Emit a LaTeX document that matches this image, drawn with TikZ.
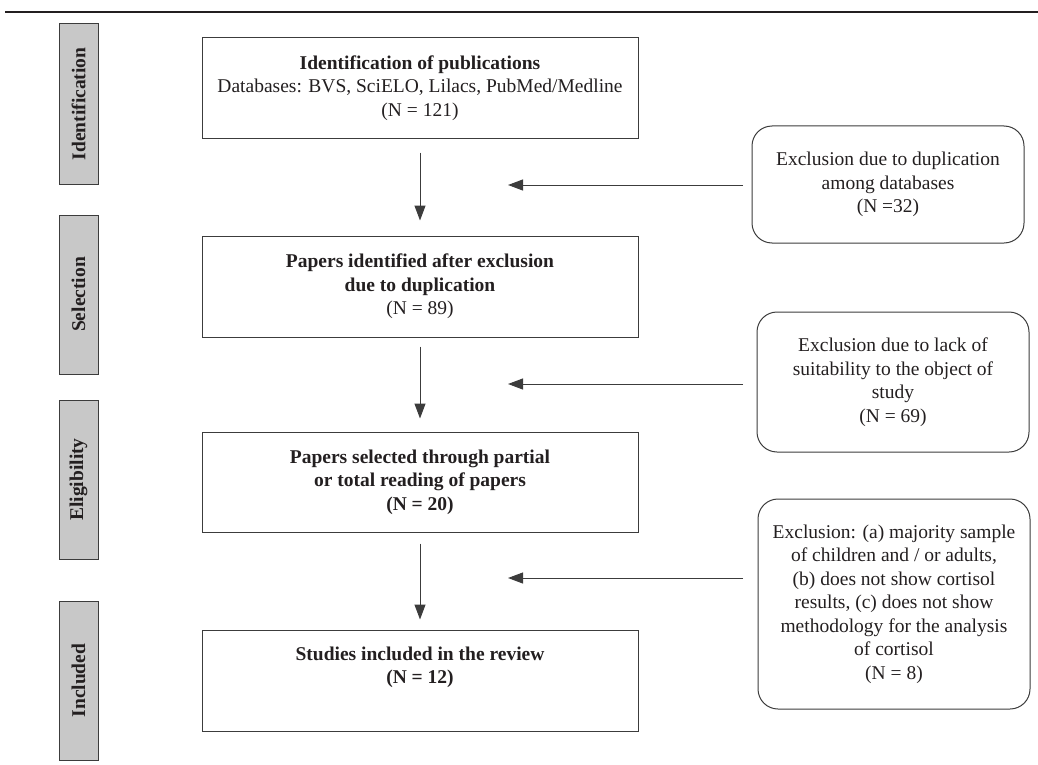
\documentclass[tikz,border=0pt]{standalone}
\usepackage{fontspec}
\setmainfont{Liberation Serif}
\usetikzlibrary{arrows.meta}
\definecolor{ln}{HTML}{3C3C3C}
\definecolor{txt}{HTML}{231F20}
\definecolor{lab}{HTML}{C8C8C8}
\begin{document}
\begin{tikzpicture}[x=1pt,y=-1pt,
 font=\fontsize{19.5}{23.5}\selectfont, text=txt,
 mainbox/.style={draw=ln, line width=1pt, minimum width=436pt, minimum height=100pt, inner sep=0pt, align=center},
 sidebox/.style={draw=ln, fill=lab, line width=1pt, minimum width=160pt, minimum height=39pt, inner sep=0pt, rotate=90, font=\fontsize{19.5}{23.5}\selectfont\bfseries},
 exbox/.style={draw=ln, line width=1pt, rounded corners=20pt, inner sep=0pt, align=center},
 arr/.style={draw=ln, line width=1pt, -{Triangle[length=15pt,width=11pt]}}
]
\useasboundingbox (0,0) rectangle (1038,765);
% top rule
\coordinate (r1) at (5,12);
\coordinate (r2) at (1038,12);
\draw[line width=1.3pt, draw=txt] (r1) -- (r2);
% side labels
\node[sidebox] (sid) at (78.5,104) {Identification};
\node[sidebox, minimum width=159pt] (sse) at (78.5,294.5) {Selection};
\node[sidebox, minimum width=159pt] (sel) at (78.5,479.5) {Eligibility};
\node[sidebox, minimum width=159pt] (sin) at (78.5,680.5) {Included};
% main boxes
\node[mainbox] (m1) at (420,88) {\textbf{Identification of publications}\\Databases: BVS, SciELO, Lilacs, PubMed/Medline\\(N = 121)};
\node[mainbox, minimum height=101pt] (m2) at (420,286.5) {\textbf{Papers identified after exclusion}\\\textbf{due to duplication}\\(N = 89)};
\node[mainbox] (m3) at (420,482) {\textbf{Papers selected through partial}\\\textbf{or total reading of papers}\\\textbf{(N = 20)}};
\node[mainbox, minimum height=101pt] (m4) at (420,680.5) {\textbf{Studies included in the review}\\\textbf{(N = 12)}\\\strut};
% exclusion boxes
\node[exbox, minimum width=272pt, minimum height=117pt] (e1) at (888,184.5) {Exclusion due to duplication\\among databases\\(N =32)};
\node[exbox, minimum width=272pt, minimum height=140pt] (e2) at (893,382) {Exclusion due to lack of\\suitability to the object of\\study\\(N = 69)};
\node[exbox, minimum width=272pt, minimum height=210pt] (e3) at (894,604) {Exclusion: (a) majority sample\\of children and / or adults,\\(b) does not show cortisol\\results, (c) does not show\\methodology for the analysis\\of cortisol\\(N = 8)};
% vertical arrows
\draw[arr, shorten <=14pt, shorten >=15pt] (m1) -- (m2);
\draw[arr, shorten <=9pt, shorten >=13pt] (m2) -- (m3);
\draw[arr, shorten <=11pt, shorten >=10pt] (m3) -- (m4);
% horizontal arrows
\coordinate (h1s) at (743,185);
\coordinate (h1e) at (508,185);
\coordinate (h2s) at (743,384);
\coordinate (h2e) at (508,384);
\coordinate (h3s) at (743,578);
\coordinate (h3e) at (508,578);
\draw[arr] (h1s) -- (h1e);
\draw[arr] (h2s) -- (h2e);
\draw[arr] (h3s) -- (h3e);
\end{tikzpicture}
\end{document}
